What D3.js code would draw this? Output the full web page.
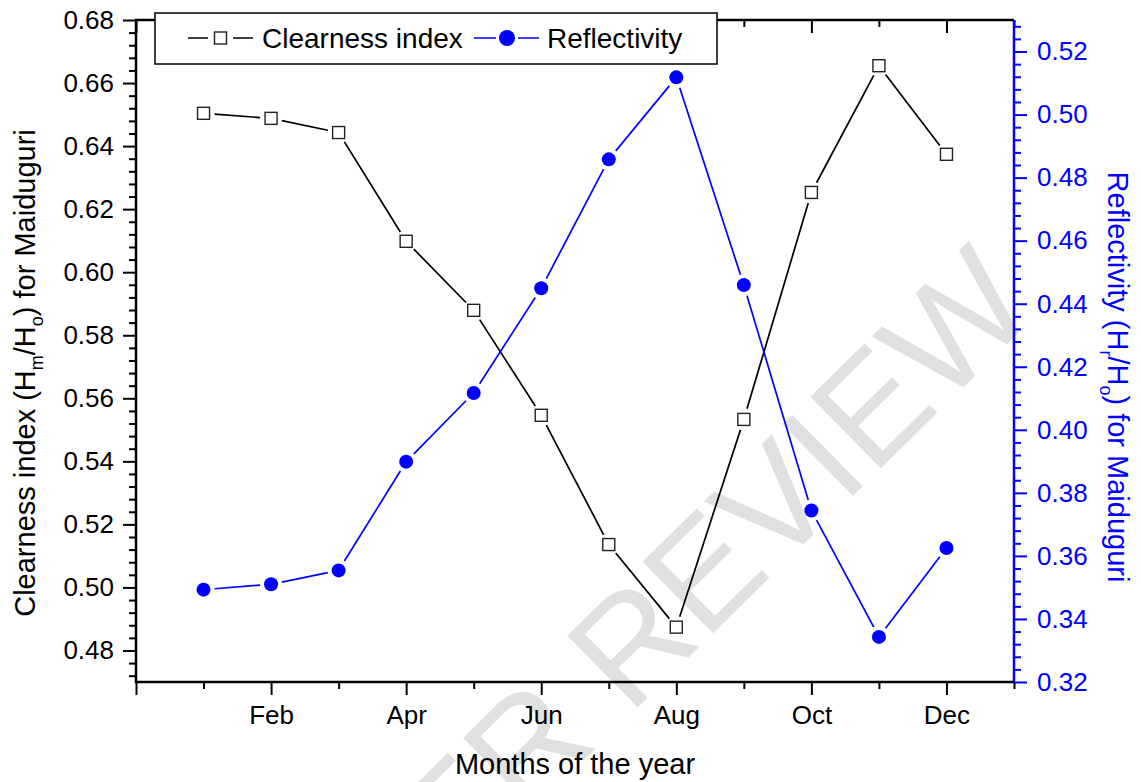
<!DOCTYPE html>
<html>
<head>
<meta charset="utf-8">
<script src="https://cdn.jsdelivr.net/npm/d3@7"></script>
<style>
  body { margin: 0; background: #fff; }
  svg text { font-family: Arial, "Liberation Sans", sans-serif; }
</style>
</head>
<body>
<svg id="chart" width="1141" height="782"></svg>
<script>
// values
var months = [1, 2, 3, 4, 5, 6, 7, 8, 9, 10, 11, 12];
var clearness = [0.6504, 0.6488, 0.6443, 0.6098, 0.5879, 0.5546, 0.5136, 0.4874, 0.5533, 0.6253, 0.6655, 0.6374];
var reflectivity = [0.3493, 0.3510, 0.3554, 0.3899, 0.4117, 0.4449, 0.4858, 0.5118, 0.4459, 0.3744, 0.3343, 0.3625];
var monthLabels = {2: "Feb", 4: "Apr", 6: "Jun", 8: "Aug", 10: "Oct", 12: "Dec"};

var margin = {top: 20, right: 127, bottom: 100, left: 136};
var W = 1141, H = 782;
var width = W - margin.left - margin.right,
    height = H - margin.top - margin.bottom;

var blue = "#0000ff";
var svg = d3.select("#chart");

// watermark
svg.append("text")
    .attr("transform", "translate(1040,312) rotate(-44.5)")
    .attr("text-anchor", "end")
    .attr("font-size", 146)
    .attr("fill", "#e0e0e0")
    .text("PEER REVIEW");

var g = svg.append("g").attr("transform", "translate(" + margin.left + "," + margin.top + ")");

var x = d3.scaleLinear().domain([0, 13]).range([0, width]);
var yL = d3.scaleLinear().domain([0.47, 0.68]).range([height, 0]);
var yR = d3.scaleLinear().domain([0.32, 0.53]).range([height, 0]);

function steps(a, b, s) {
    var out = [];
    for (var v = a; v <= b + 1e-9; v += s) out.push(+v.toFixed(4));
    return out;
}
var leftMajor = steps(0.48, 0.68, 0.02);
var leftMinor = steps(0.472, 0.68, 0.004).filter(function(v) { return leftMajor.indexOf(v) < 0; });
var rightMajor = steps(0.32, 0.52, 0.02);
var rightMinor = steps(0.324, 0.53, 0.004).filter(function(v) { return rightMajor.indexOf(v) < 0; });
var xMajor = [0, 2, 4, 6, 8, 10, 12];
var xMinor = [1, 3, 5, 7, 9, 11, 13];

function styleAxis(sel, color, fs) {
    sel.select(".domain").remove();
    sel.selectAll(".tick line").attr("stroke", color).attr("stroke-width", 2);
    sel.selectAll(".tick text").attr("fill", color).attr("font-size", fs)
        .attr("font-family", "Arial, 'Liberation Sans', sans-serif");
}

// bottom axis
g.append("g").attr("transform", "translate(0," + height + ")")
    .call(d3.axisBottom(x).tickValues(xMajor).tickSize(13).tickPadding(11)
        .tickFormat(function(d) { return monthLabels[d] || ""; }))
    .call(styleAxis, "#000", 26);
g.append("g").attr("transform", "translate(0," + height + ")")
    .call(d3.axisBottom(x).tickValues(xMinor).tickSize(7).tickFormat(""))
    .call(styleAxis, "#000", 26);
// top mirror ticks (inward)
g.append("g")
    .call(d3.axisBottom(x).tickValues(xMajor).tickSize(13).tickFormat(""))
    .call(styleAxis, "#000", 26);
g.append("g")
    .call(d3.axisBottom(x).tickValues(xMinor).tickSize(7).tickFormat(""))
    .call(styleAxis, "#000", 26);

// left axis
g.append("g")
    .call(d3.axisLeft(yL).tickValues(leftMajor).tickSize(13).tickPadding(9).tickFormat(d3.format(".2f")))
    .call(styleAxis, "#000", 26);
g.append("g")
    .call(d3.axisLeft(yL).tickValues(leftMinor).tickSize(7).tickFormat(""))
    .call(styleAxis, "#000", 26);

// right axis
g.append("g").attr("transform", "translate(" + width + ",0)")
    .call(d3.axisRight(yR).tickValues(rightMajor).tickSize(13).tickPadding(10).tickFormat(d3.format(".2f")))
    .call(styleAxis, blue, 26);
g.append("g").attr("transform", "translate(" + width + ",0)")
    .call(d3.axisRight(yR).tickValues(rightMinor).tickSize(7).tickFormat(""))
    .call(styleAxis, blue, 26);

// frame
g.append("path").attr("fill", "none").attr("stroke", "#000").attr("stroke-width", 2.5)
    .attr("d", "M" + width + ",0H0V" + height + "H" + width);
g.append("line").attr("x1", width).attr("x2", width).attr("y1", 0).attr("y2", height)
    .attr("stroke", blue).attr("stroke-width", 2.5);

// series lines with gaps around markers
function gappedSegments(ys, yScale, gap) {
    var pts = months.map(function(m, i) { return [x(m), yScale(ys[i])]; });
    var segs = [];
    for (var i = 0; i < pts.length - 1; i++) {
        var a = pts[i], b = pts[i + 1];
        var dx = b[0] - a[0], dy = b[1] - a[1], len = Math.sqrt(dx * dx + dy * dy);
        if (len <= 2 * gap) continue;
        var ux = dx / len, uy = dy / len;
        segs.push([[a[0] + ux * gap, a[1] + uy * gap], [b[0] - ux * gap, b[1] - uy * gap]]);
    }
    return segs;
}
var line = d3.line();

g.selectAll(".seg-c").data(gappedSegments(clearness, yL, 11)).enter()
    .append("path").attr("class", "seg-c").attr("d", line)
    .attr("stroke", "#000").attr("stroke-width", 1.7).attr("fill", "none");
g.selectAll(".seg-r").data(gappedSegments(reflectivity, yR, 11)).enter()
    .append("path").attr("class", "seg-r").attr("d", line)
    .attr("stroke", blue).attr("stroke-width", 1.7).attr("fill", "none");

g.selectAll(".sq").data(months).enter().append("rect")
    .attr("x", function(d, i) { return x(d) - 6; })
    .attr("y", function(d, i) { return yL(clearness[i]) - 6; })
    .attr("width", 12).attr("height", 12)
    .attr("fill", "#fff").attr("stroke", "#222").attr("stroke-width", 1.4);

g.selectAll(".dot").data(months).enter().append("circle")
    .attr("cx", function(d) { return x(d); })
    .attr("cy", function(d, i) { return yR(reflectivity[i]); })
    .attr("r", 7).attr("fill", blue);

// legend
var lg = svg.append("g");
lg.append("rect").attr("x", 155).attr("y", 13).attr("width", 562).attr("height", 51)
    .attr("fill", "#fff").attr("stroke", "#000").attr("stroke-width", 1.5);
lg.append("path").attr("d", "M188,38H208M233,38H253").attr("stroke", "#000").attr("stroke-width", 1.7);
lg.append("rect").attr("x", 214.5).attr("y", 32).attr("width", 12).attr("height", 12)
    .attr("fill", "#fff").attr("stroke", "#222").attr("stroke-width", 1.4);
lg.append("text").attr("x", 262).attr("y", 48).attr("font-size", 28).text("Clearness index");
lg.append("path").attr("d", "M474,38H496M518,38H539").attr("stroke", blue).attr("stroke-width", 1.7);
lg.append("circle").attr("cx", 507).attr("cy", 38).attr("r", 8).attr("fill", blue);
lg.append("text").attr("x", 547).attr("y", 48).attr("font-size", 28).text("Reflectivity");

// axis titles
svg.append("text").attr("x", margin.left + width / 2).attr("y", 774)
    .attr("text-anchor", "middle").attr("font-size", 29).text("Months of the year");

function titleWithSubs(sel, parts) {
    parts.forEach(function(p) {
        var t = sel.append("tspan").text(p[0]);
        if (p[1] === "sub") t.attr("font-size", 18).attr("dy", 8);
        if (p[1] === "back") t.attr("dy", -8);
    });
}
var lt = svg.append("text").attr("transform", "translate(35,373) rotate(-90)")
    .attr("text-anchor", "middle").attr("font-size", 29);
titleWithSubs(lt, [["Clearness index (H"], ["m", "sub"], ["/H", "back"], ["o", "sub"], [") for Maiduguri", "back"]]);

var rt = svg.append("text").attr("transform", "translate(1108,377) rotate(90)")
    .attr("text-anchor", "middle").attr("font-size", 29).attr("fill", blue);
titleWithSubs(rt, [["Reflectivity (H"], ["r", "sub"], ["/H", "back"], ["o", "sub"], [") for Maiduguri", "back"]]);
</script>
</body>
</html>
